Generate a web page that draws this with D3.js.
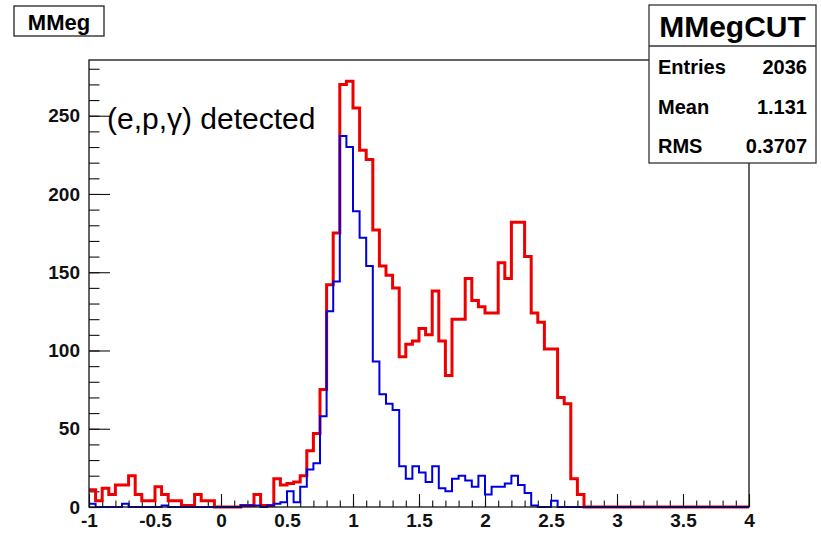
<!DOCTYPE html>
<html>
<head>
<meta charset="utf-8">
<script src="https://cdn.jsdelivr.net/npm/d3@7"></script>
<style>
  body { margin: 0; background: #fff; }
  svg { display: block; font-family: "Liberation Sans", Arial, Helvetica, sans-serif; }
</style>
</head>
<body>
<svg id="chart"></svg>
<script>
// histogram binning: 100 bins of 0.05 from -1 to 4
const binStart = -1;
const binWidth = 0.05;

// MMegCUT (red)
const redCounts = [
  11, 4, 12, 8, 14, 14, 20, 8, 4, 4,
  13, 8, 4, 4, 1, 1, 8, 4, 4, 0,
  0, 0, 0, 1, 1, 8, 1, 1, 18, 14,
  15, 16, 20, 36, 47, 75, 142, 175, 270, 272,
  255, 228, 222, 177, 154, 148, 140, 96, 104, 106,
  114, 110, 138, 106, 84, 120, 120, 146, 132, 128,
  124, 124, 156, 146, 182, 182, 160, 124, 118, 101,
  101, 70, 66, 18, 8, 0, 0, 0, 0, 0,
  0, 0, 0, 0, 0, 0, 0, 0, 0, 0,
  0, 0, 0, 0, 0, 0, 0, 0, 0, 0
];

// (e,p,gamma) detected (blue)
const blueCounts = [
  2, 0, 0, 0, 0, 2, 0, 0, 0, 0,
  0, 1, 0, 0, 0, 0, 0, 0, 0, 0,
  0, 0, 0, 1, 1, 1, 0, 1, 2, 3,
  10, 3, 13, 24, 28, 58, 125, 144, 237, 230,
  189, 172, 154, 93, 72, 66, 62, 26, 18, 26,
  22, 16, 26, 12, 10, 18, 20, 17, 13, 20,
  8, 13, 13, 15, 20, 14, 9, 1, 0, 0,
  4, 0, 0, 0, 0, 0, 0, 0, 0, 0,
  0, 0, 0, 0, 0, 0, 0, 0, 0, 0,
  0, 0, 0, 0, 0, 0, 0, 0, 0, 0
];

const xTicks = [-1, -0.5, 0, 0.5, 1, 1.5, 2, 2.5, 3, 3.5, 4];
const yTicks = [0, 50, 100, 150, 200, 250];
const statRows = [["Entries", "2036"], ["Mean", "1.131"], ["RMS", "0.3707"]];

const width = 821, height = 534;
const frame = { left: 89, top: 60, right: 749, bottom: 507 };

const svg = d3.select("#chart").attr("width", width).attr("height", height);

const x = d3.scaleLinear().domain([-1, 4]).range([frame.left, frame.right]);
const y = d3.scaleLinear().domain([0, 285.6]).range([frame.bottom, frame.top]);

// --- axes (ticks inside the frame, ROOT style) ---
const xMinor = d3.range(-10, 41).map(i => i / 10);
svg.append("g")
  .attr("transform", `translate(0,${frame.bottom})`)
  .call(d3.axisBottom(x).tickValues(xMinor).tickSize(-6.5).tickFormat(""))
  .call(g => g.select(".domain").remove());

svg.append("g")
  .attr("class", "x-axis")
  .attr("transform", `translate(0,${frame.bottom})`)
  .call(d3.axisBottom(x).tickValues(xTicks).tickSize(-13).tickPadding(7)
    .tickFormat(d => String(d)))
  .call(g => g.select(".domain").remove());

const yMinor = d3.range(0, 290, 10);
svg.append("g")
  .attr("transform", `translate(${frame.left},0)`)
  .call(d3.axisLeft(y).tickValues(yMinor).tickSize(-10.5).tickFormat(""))
  .call(g => g.select(".domain").remove());

svg.append("g")
  .attr("class", "y-axis")
  .attr("transform", `translate(${frame.left},0)`)
  .call(d3.axisLeft(y).tickValues(yTicks).tickSize(-21).tickPadding(9))
  .call(g => g.select(".domain").remove());

svg.selectAll(".tick line").attr("stroke", "#111").attr("stroke-width", 1.1);
svg.selectAll(".x-axis text, .y-axis text")
  .attr("font-size", 19).attr("font-weight", "bold")
  .attr("font-family", "Liberation Sans, Arial, sans-serif").attr("fill", "#111");

// --- histograms ---
const stepLine = d3.line()
  .x(d => x(d[0]))
  .y(d => y(d[1]))
  .curve(d3.curveStepAfter);

function histPoints(counts) {
  const pts = counts.map((v, i) => [binStart + i * binWidth, v]);
  pts.push([binStart + counts.length * binWidth, counts[counts.length - 1]]);
  return pts;
}

svg.append("path")
  .attr("d", stepLine(histPoints(redCounts)))
  .attr("fill", "none")
  .attr("stroke", "#ee0000")
  .attr("stroke-width", 3)
  .attr("stroke-linejoin", "miter");

svg.append("path")
  .attr("d", stepLine(histPoints(blueCounts)))
  .attr("fill", "none")
  .attr("stroke", "#0000dd")
  .attr("stroke-width", 2)
  .attr("stroke-linejoin", "miter");

// frame
svg.append("rect")
  .attr("x", frame.left).attr("y", frame.top)
  .attr("width", frame.right - frame.left)
  .attr("height", frame.bottom - frame.top)
  .attr("fill", "none").attr("stroke", "#111").attr("stroke-width", 1.3);

// annotation
svg.append("text")
  .attr("x", 107).attr("y", 129)
  .attr("font-size", 30)
  .attr("fill", "#000")
  .text("(e,p,\u03b3) detected");

// title box
svg.append("rect")
  .attr("x", 14).attr("y", 6).attr("width", 90).attr("height", 30)
  .attr("fill", "#fff").attr("stroke", "#222").attr("stroke-width", 1.3);
svg.append("text")
  .attr("x", 59).attr("y", 30)
  .attr("text-anchor", "middle")
  .attr("font-size", 22).attr("font-weight", "bold")
  .text("MMeg");

// stats box
const stats = svg.append("g");
stats.append("rect")
  .attr("x", 649).attr("y", 5).attr("width", 167).attr("height", 158)
  .attr("fill", "#fff").attr("stroke", "#333").attr("stroke-width", 1.3);
stats.append("line")
  .attr("x1", 649).attr("x2", 816).attr("y1", 46).attr("y2", 46)
  .attr("stroke", "#333").attr("stroke-width", 1.3);
stats.append("text")
  .attr("x", 732.5).attr("y", 37)
  .attr("text-anchor", "middle")
  .attr("font-size", 30).attr("font-weight", "bold")
  .text("MMegCUT");

statRows.forEach((row, i) => {
  const by = 74 + i * 39.5;
  stats.append("text")
    .attr("x", 658).attr("y", by)
    .attr("font-size", 20).attr("font-weight", "bold")
    .text(row[0]);
  stats.append("text")
    .attr("x", 807).attr("y", by)
    .attr("text-anchor", "end")
    .attr("font-size", 20).attr("font-weight", "bold")
    .text(row[1]);
});
</script>
</body>
</html>
